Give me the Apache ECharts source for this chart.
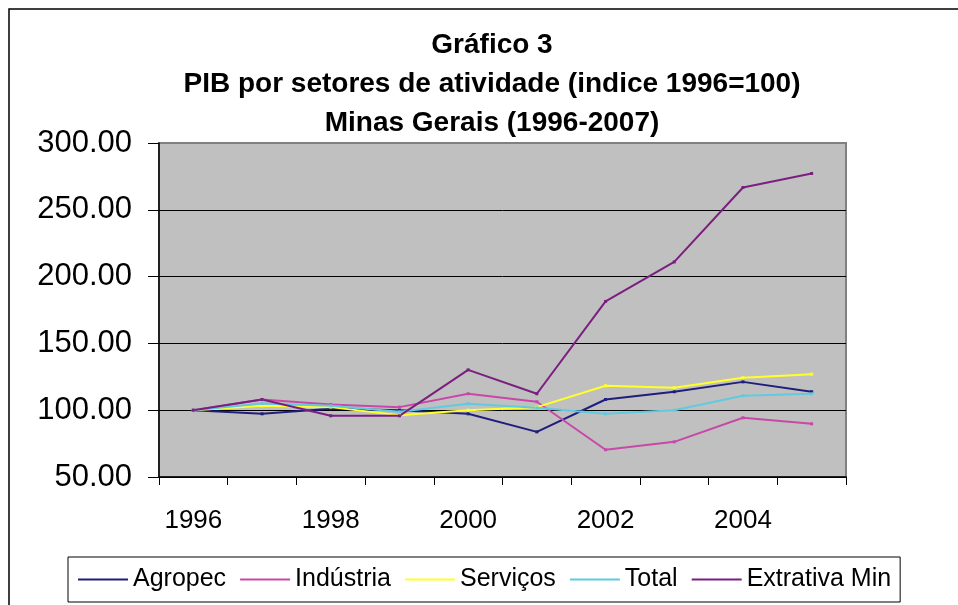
<!DOCTYPE html>
<html>
<head>
<meta charset="utf-8">
<script src="https://cdn.jsdelivr.net/npm/echarts@6/dist/echarts.min.js"></script>
<style>
html,body{margin:0;padding:0;background:#fff;}
#c{width:958px;height:605px;}
</style>
</head>
<body>
<div id="c"></div>
<script>
var years = ['1996','1997','1998','1999','2000','2001','2002','2003','2004','2005'];
var seriesNames = ['Agropec','Indústria','Serviços','Total','Extrativa Min'];
var agropec   = [100, 97.3, 101, 100, 97.3, 83.8, 108, 113.8, 121.2, 113.8];
var industria = [100, 108, 104.3, 102.3, 112.3, 106.3, 70.4, 76.3, 94.3, 89.8];
var servicos  = [100, 103.3, 102.3, 96.3, 100, 102.3, 118.3, 116.8, 124.3, 127];
var total     = [100, 105, 103.3, 98.8, 104.8, 101.8, 97.3, 100, 110.8, 112.3];
var extrativa = [100, 108, 95.8, 95.8, 130.2, 112.3, 181.4, 211, 266.7, 277.2];
var colors = ['#1e1e7c', '#c848a8', '#ffff2a', '#60cade', '#7a1f80'];
var allData = [agropec, industria, servicos, total, extrativa];

var chart = echarts.init(document.getElementById('c'), null, {renderer: 'canvas'});
var font = '"Liberation Sans", Arial, sans-serif';
var option = {
  animation: false,
  backgroundColor: '#ffffff',
  textStyle: {fontFamily: font, color: '#000'},
  title: {
    text: 'Gráfico 3\nPIB por setores de atividade (indice 1996=100)\nMinas Gerais (1996-2007)',
    left: 487,
    textAlign: 'center',
    top: 21,
    textStyle: {fontFamily: font, fontWeight: 'bold', fontSize: 28, lineHeight: 39, color: '#000'}
  },
  graphic: [{
    type: 'rect',
    shape: {x: 9, y: 9, width: 1000, height: 700},
    style: {fill: 'none', stroke: '#000', lineWidth: 1.5},
    silent: true, z: -1
  }],
  legend: {
    data: seriesNames,
    left: 68,
    top: 557,
    padding: [10, 9, 10, 10],
    itemGap: 14,
    itemWidth: 50,
    itemHeight: 2,
    icon: 'rect',
    borderColor: '#000',
    borderWidth: 1,
    textStyle: {fontFamily: font, fontSize: 25, color: '#000'}
  },
  grid: {
    left: 159, top: 143, right: 112, bottom: 128,
    show: true,
    backgroundColor: '#c0c0c0',
    borderColor: '#808080',
    borderWidth: 2
  },
  xAxis: {
    type: 'category',
    data: years,
    boundaryGap: true,
    axisLine: {lineStyle: {color: '#000', width: 1.5}},
    axisTick: {show: true, interval: 0, length: 8, lineStyle: {color: '#000', width: 1}},
    axisLabel: {interval: 1, fontSize: 26, color: '#000', margin: 31, fontFamily: font},
    splitLine: {show: false}
  },
  yAxis: {
    type: 'value',
    min: 50, max: 300, interval: 50,
    axisLine: {show: true, lineStyle: {color: '#000', width: 1.5}},
    axisTick: {show: true, length: 11, lineStyle: {color: '#000', width: 1}},
    axisLabel: {fontSize: 31, color: '#000', margin: 27, fontFamily: font,
      formatter: function (v) { return v.toFixed(2); }},
    splitLine: {show: true, showMaxLine: false, lineStyle: {color: '#000', width: 1}}
  },
  series: seriesNames.map(function (n, i) {
    return {
      name: n,
      type: 'line',
      data: allData[i],
      symbol: 'rect',
      symbolSize: 3,
      showSymbol: true,
      color: colors[i],
      lineStyle: {width: 2, color: colors[i]},
      itemStyle: {color: colors[i]},
      z: 3
    };
  })
};
chart.setOption(option);
</script>
</body>
</html>
